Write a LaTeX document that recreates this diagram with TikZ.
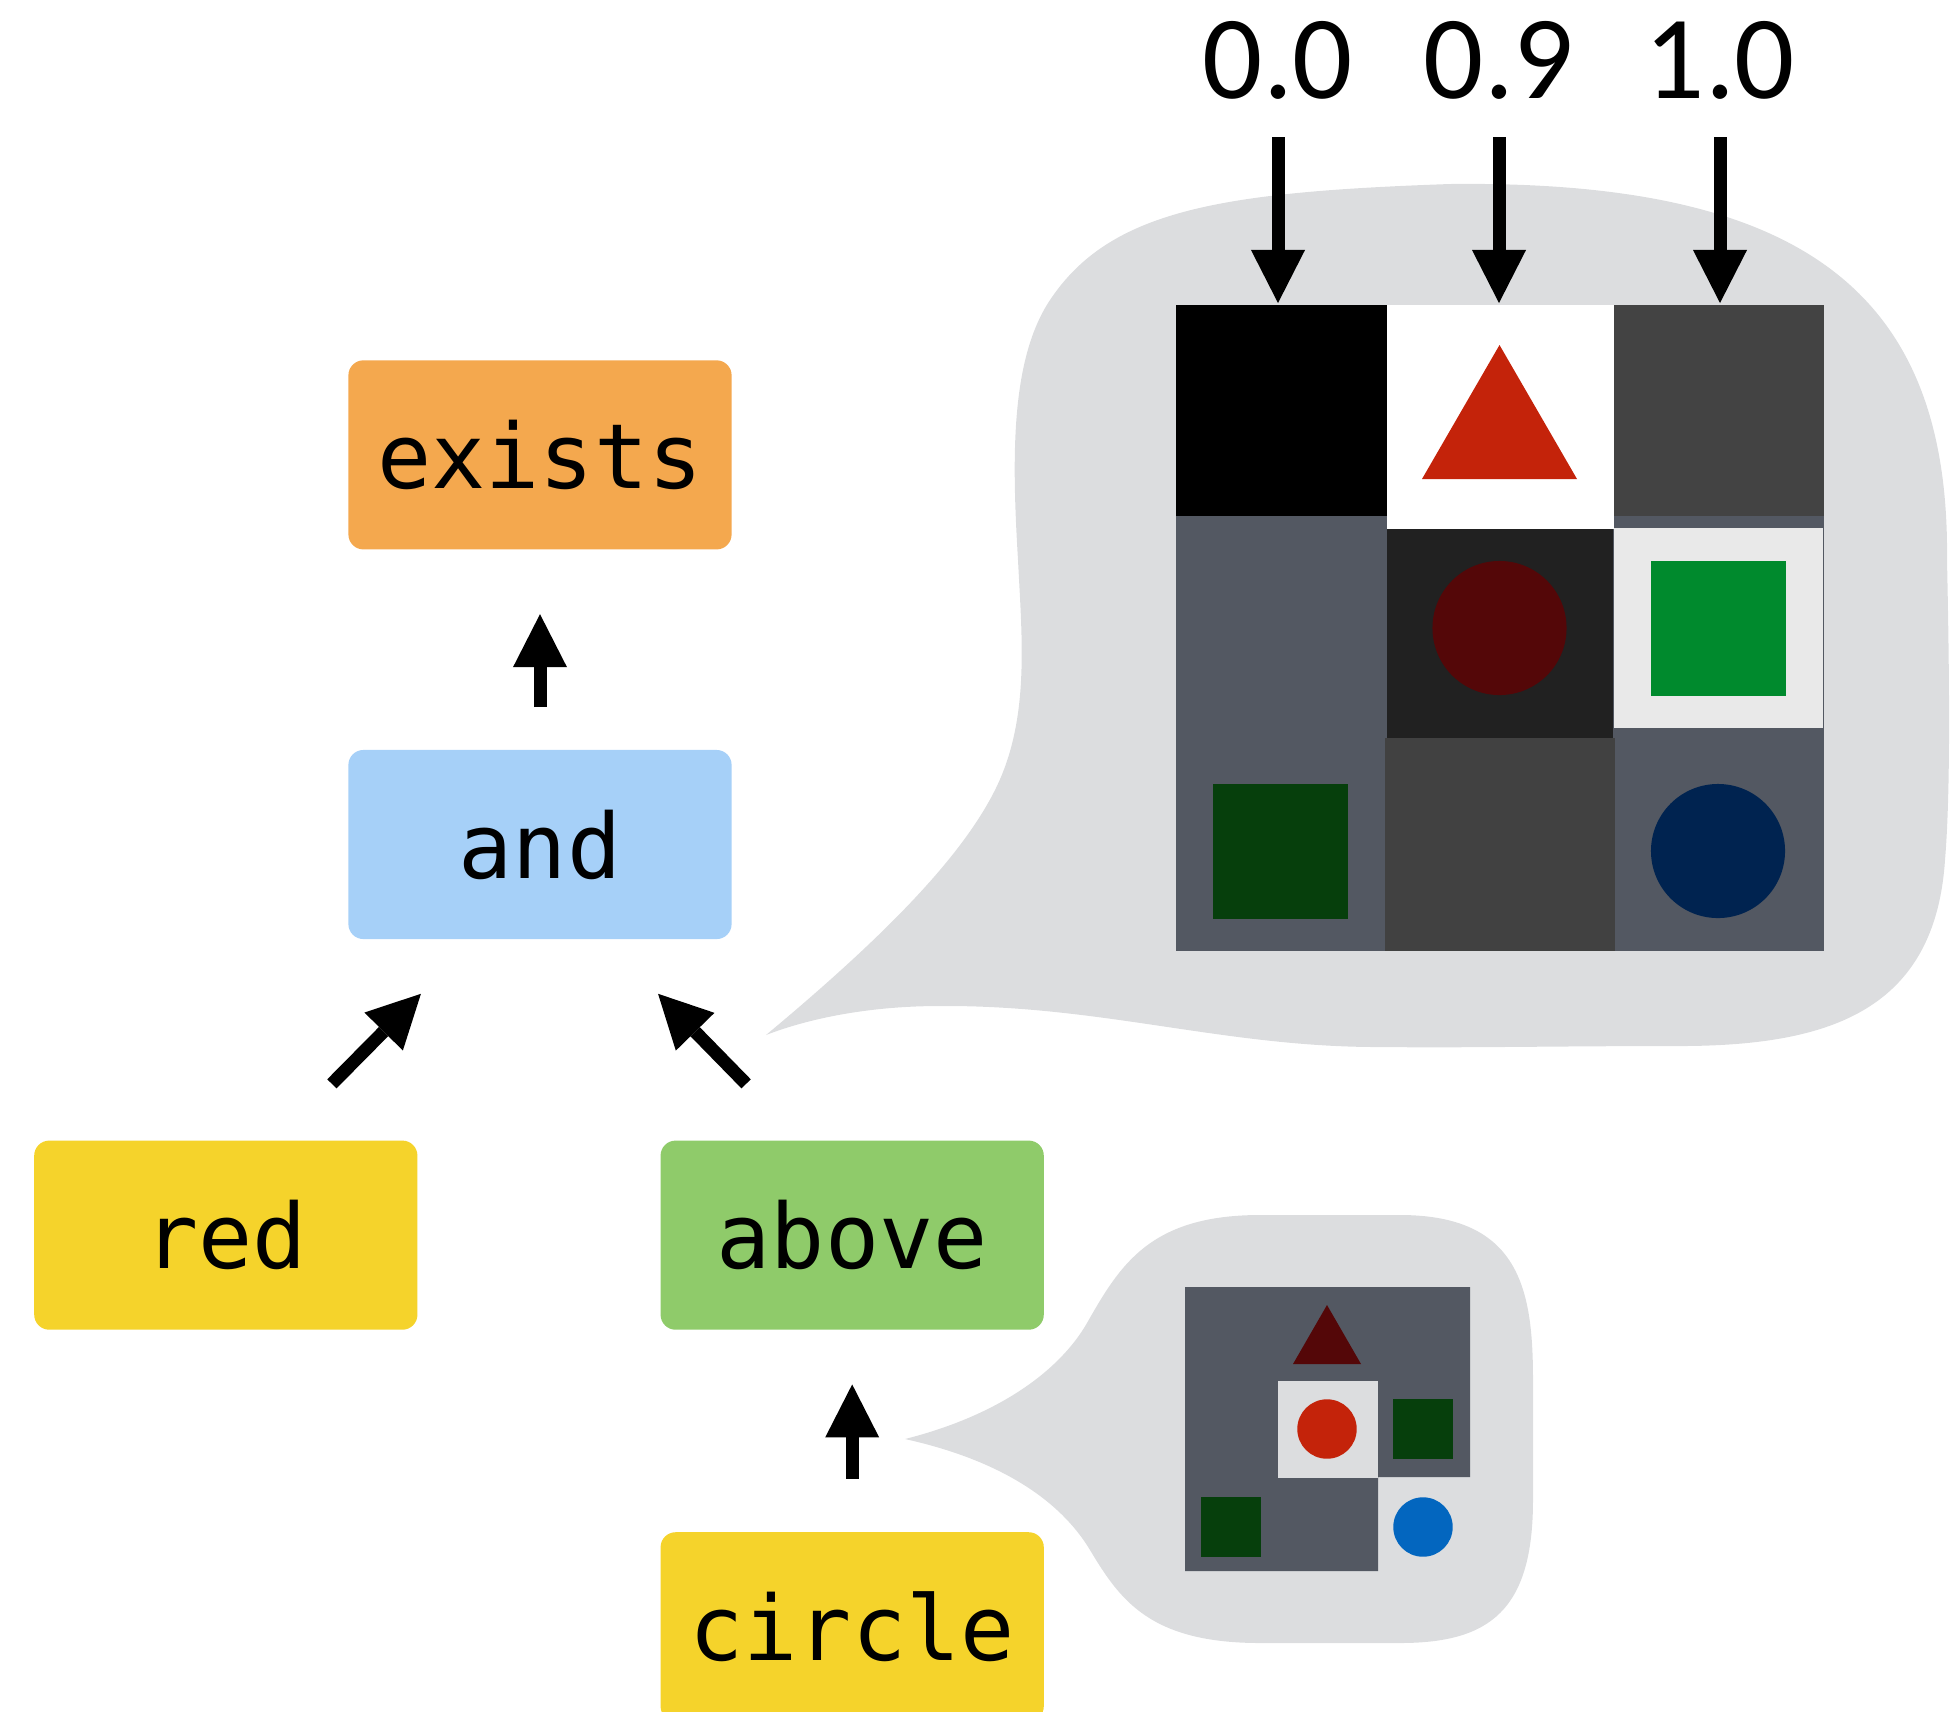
\documentclass[tikz,border=0pt]{standalone}
\usepackage{fontspec}
\setmonofont{DejaVu Sans Mono}
\newfontfamily\numfont{Carlito}
\usepackage{tikz}
\usetikzlibrary{positioning, arrows.meta}
\definecolor{blobgray}{RGB}{220, 221, 223}
\definecolor{existsorange}{RGB}{244, 168, 78}
\definecolor{andblue}{RGB}{166, 208, 248}
\definecolor{attryellow}{RGB}{245, 211, 43}
\definecolor{relgreen}{RGB}{143, 203, 106}
\definecolor{slate}{RGB}{83, 88, 98}
\definecolor{cellgray}{RGB}{67, 67, 67}
\definecolor{cellmid}{RGB}{65, 65, 65}
\definecolor{celldark}{RGB}{33, 33, 33}
\definecolor{celllight}{RGB}{233, 233, 233}
\definecolor{shapered}{RGB}{196, 35, 10}
\definecolor{shapemaroon}{RGB}{84, 7, 8}
\definecolor{shapegreen}{RGB}{0, 138, 45}
\definecolor{shapedkgreen}{RGB}{6, 63, 12}
\definecolor{shapenavy}{RGB}{0, 35, 80}
\definecolor{shapeblue}{RGB}{3, 102, 191}

\begin{document}
\begin{tikzpicture}[x=0.01cm, y=-0.01cm, node distance=2cm,
    opbox/.style={rounded corners=0.15cm, minimum width=3.83cm, minimum height=1.89cm, inner sep=0pt, font=\ttfamily\fontsize{25.6}{30}\selectfont},
    bigarrow/.style={line width=0.13cm, -{Triangle[width=0.54cm, length=0.53cm, line width=0pt]}},
    score/.style={inner sep=0pt, font=\numfont\fontsize{33.8}{40}\selectfont}]
    \useasboundingbox (0,0) rectangle (1957,1711);

    % Bubbles
    \fill[blobgray] (766,1035) .. controls (880,940) and (960,860) .. (995,790)
        .. controls (1030,720) and (1022,640) .. (1018,560)
        .. controls (1012,460) and (1010,360) .. (1050,300)
        .. controls (1110,210) and (1220,192) .. (1450,184)
        .. controls (1800,180) and (1950,290) .. (1947,560)
        .. controls (1950,700) and (1950,800) .. (1945,860)
        .. controls (1935,1010) and (1830,1045) .. (1685,1046)
        .. controls (1550,1046) and (1480,1048) .. (1373,1047)
        .. controls (1220,1046) and (1100,1005) .. (940,1006)
        .. controls (870,1006) and (810,1018) .. cycle;
    \fill[blobgray] (905,1439) .. controls (1000,1415) and (1060,1370) .. (1087,1323)
        .. controls (1120,1265) and (1150,1215) .. (1260,1215)
        -- (1400,1215) .. controls (1520,1215) and (1533,1290) .. (1533,1380)
        -- (1533,1500) .. controls (1533,1610) and (1490,1643) .. (1400,1643)
        -- (1260,1643) .. controls (1150,1643) and (1120,1600) .. (1090,1550)
        .. controls (1060,1500) and (1000,1460) .. cycle;

    % Big scene
    \fill[slate] (1176,305) rectangle (1824,951);
    \fill[black] (1176,305) rectangle (1387,516);
    \fill[white] (1387,305) rectangle (1614,529);
    \fill[cellgray] (1614,305) rectangle (1824,516);
    \fill[celldark] (1387,529) rectangle (1613,738);
    \fill[celllight] (1614,528) rectangle (1823,728);
    \fill[cellmid] (1385,738) rectangle (1615,951);
    \fill[shapered] (1499.5,345) -- (1577,479) -- (1422,479) -- cycle;
    \fill[shapemaroon] (1499.5,628) circle (0.67cm);
    \fill[shapegreen] (1651,561) rectangle (1786,696);
    \fill[shapedkgreen] (1213,784) rectangle (1348,919);
    \fill[shapenavy] (1718,851) circle (0.67cm);

    % Small scene
    \fill[slate] (1185,1287) -- (1470,1287) -- (1470,1477) -- (1378,1477) -- (1378,1571) -- (1185,1571) -- cycle;
    \fill[blobgray] (1278,1381) rectangle (1378,1478);
    \fill[shapemaroon] (1327,1305) -- (1361,1364) -- (1293,1364) -- cycle;
    \fill[shapered] (1327,1429) circle (0.297cm);
    \fill[shapedkgreen] (1393,1399) rectangle (1453,1459);
    \fill[shapedkgreen] (1201,1497) rectangle (1261,1557);
    \fill[shapeblue] (1423,1527) circle (0.297cm);

    % Nodes
    \node (and) [opbox, fill=andblue] at (540,844.5) {and};
    \node (exists) [opbox, fill=existsorange, above=1.99cm of and] {exists};
    \node (red) [opbox, fill=attryellow, below=2cm of and, xshift=-3.14cm] {red};
    \node (above) [opbox, fill=relgreen, below=2cm of and, xshift=3.12cm] {above};
    \node (circle) [opbox, fill=attryellow, below=2.01cm of above] {circle};

    \node (s0) [score] at (1278,60) {0.0};
    \node (s9) [score] at (1499,60) {0.9};
    \node (s1) [score] at (1720,60) {1.0};
    \coordinate (c0) at (1278,303);
    \coordinate (c9) at (1499,303);
    \coordinate (c1) at (1720,303);

    % Arrows
    \draw[bigarrow, shorten <=0.42cm, shorten >=0.64cm] (and) -- (exists);
    \draw[bigarrow] ([xshift=1.06cm, yshift=0.56cm]red.north) -- ([xshift=-1.19cm, yshift=-0.54cm]and.south);
    \draw[bigarrow] ([xshift=-1.06cm, yshift=0.56cm]above.north) -- ([xshift=1.18cm, yshift=-0.54cm]and.south);
    \draw[bigarrow, shorten <=0.53cm, shorten >=0.54cm] (circle) -- (above);
    \draw[bigarrow, shorten <=0.375cm] (s0) -- (c0);
    \draw[bigarrow, shorten <=0.375cm] (s9) -- (c9);
    \draw[bigarrow, shorten <=0.375cm] (s1) -- (c1);
\end{tikzpicture}
\end{document}
